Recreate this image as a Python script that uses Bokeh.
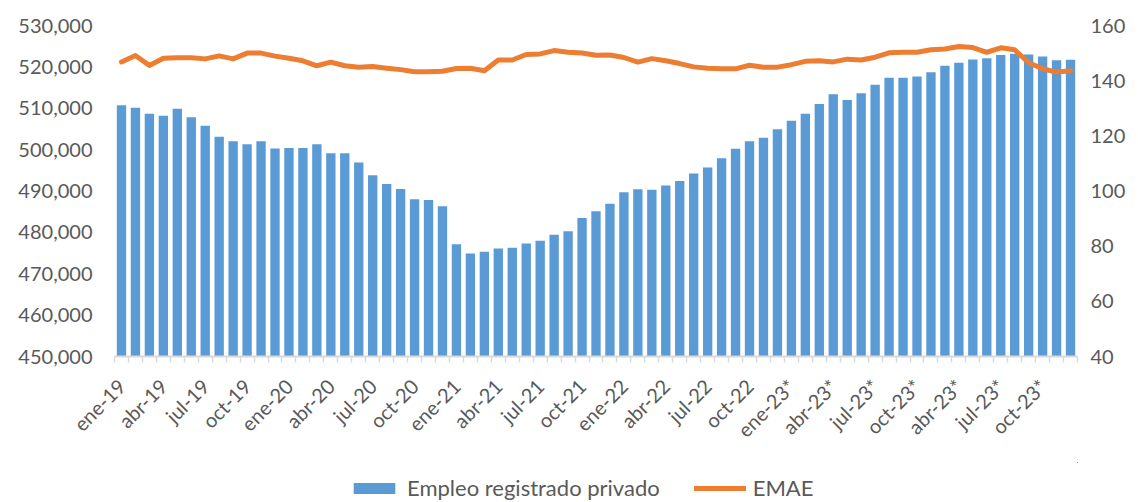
import math
from bokeh.plotting import figure
from bokeh.layouts import column
from bokeh.models import (Range1d, LinearAxis, FixedTicker, NumeralTickFormatter,
                          Legend, LegendItem, ColumnDataSource)
from bokeh.embed import file_html
from bokeh.resources import INLINE

# ---- data ----
empleo = [510700, 510100, 508700, 508200, 509900, 507800, 505800, 503100, 502000, 501300,
          502000, 500300, 500400, 500400, 501300, 499100, 499100, 496900, 493800, 491700,
          490500, 488000, 487800, 486300, 477100, 474900, 475300, 476100, 476300, 477300,
          478000, 479400, 480300, 483500, 485100, 486900, 489700, 490400, 490300, 491300,
          492400, 494200, 495700, 497900, 500200, 502000, 502900, 504900, 507000, 508700,
          511000, 513400, 512000, 513600, 515700, 517400, 517400, 517700, 518700, 520300,
          521000, 521800, 522100, 522900, 523200, 523000, 522500, 521600, 521700]

emae = [146.8, 149.1, 145.5, 148.1, 148.3, 148.3, 147.9, 149.0, 147.9, 150.0,
        150.0, 148.9, 148.1, 147.2, 145.4, 146.7, 145.4, 144.9, 145.1, 144.5,
        144.0, 143.2, 143.2, 143.4, 144.4, 144.5, 143.6, 147.5, 147.5, 149.5,
        149.7, 150.9, 150.3, 150.0, 149.2, 149.3, 148.4, 146.7, 148.0, 147.2,
        146.2, 145.0, 144.5, 144.3, 144.3, 145.6, 144.9, 144.9, 145.8, 147.0,
        147.2, 146.8, 147.8, 147.5, 148.5, 150.1, 150.3, 150.3, 151.2, 151.5,
        152.4, 152.0, 150.3, 151.9, 151.2, 146.5, 144.3, 143.1, 143.6]

tick_labels = ["ene-19", "abr-19", "jul-19", "oct-19", "ene-20", "abr-20", "jul-20", "oct-20",
               "ene-21", "abr-21", "jul-21", "oct-21", "ene-22", "abr-22", "jul-22", "oct-22",
               "ene-23*", "abr-23*", "jul-23*", "oct-23*", "abr-23*", "jul-23*", "oct-23*"]
label_step = 3

series_names = ["Empleo registrado privado", "EMAE"]

left_ticks = [450000, 460000, 470000, 480000, 490000, 500000, 510000, 520000, 530000]
right_ticks = [40, 60, 80, 100, 120, 140, 160]

# ---- styling ----
BLUE = "#5B9BD5"
ORANGE = "#ED7D31"
TXT = "#595959"
AXC = "#D9D9D9"
FONT = "Lato"

n = len(empleo)
xs = list(range(n))
src = ColumnDataSource(dict(x=xs, empleo=empleo, emae=emae))

p = figure(frame_width=963, frame_height=331,
           x_range=Range1d(-0.5, n - 0.5),
           y_range=Range1d(left_ticks[0], left_ticks[-1]),
           output_backend="svg", toolbar_location=None,
           min_border_left=114, min_border_right=61,
           min_border_top=25, min_border_bottom=106)
p.extra_y_ranges = {"emae": Range1d(right_ticks[0], right_ticks[-1])}

p.vbar(x="x", top="empleo", bottom=left_ticks[0], width=0.67, source=src,
       fill_color=BLUE, line_color=None)
p.line(x="x", y="emae", source=src, y_range_name="emae",
       line_color=ORANGE, line_width=5, line_join="round", line_cap="round")

p.outline_line_color = None
p.xgrid.visible = False
p.ygrid.visible = False

# x axis
tick_pos = [i * label_step for i in range(len(tick_labels))]
xa = p.xaxis[0]
xa.ticker = FixedTicker(ticks=tick_pos, minor_ticks=[i - 0.5 for i in range(n + 1)])
xa.major_label_overrides = {t: lab for t, lab in zip(tick_pos, tick_labels)}
xa.major_label_orientation = math.pi / 4
xa.major_label_text_font = FONT
xa.major_label_text_font_size = "20px"
xa.major_label_text_color = TXT
xa.major_label_standoff = 20
xa.major_tick_line_color = None
xa.major_tick_out = 6
xa.major_tick_in = 0
xa.minor_tick_in = 0
xa.minor_tick_out = 6
xa.minor_tick_line_color = AXC
xa.minor_tick_line_width = 1.5
xa.axis_line_color = AXC
xa.axis_line_width = 2

# left axis
ya = p.yaxis[0]
ya.ticker = FixedTicker(ticks=left_ticks)
ya.formatter = NumeralTickFormatter(format="0,0")
ya.axis_line_color = None
ya.major_tick_line_color = None
ya.major_tick_out = 0
ya.major_tick_in = 0
ya.minor_tick_line_color = None
ya.major_label_text_font = FONT
ya.major_label_text_font_size = "20px"
ya.major_label_text_color = TXT
ya.major_label_standoff = 22

# right axis
ra = LinearAxis(y_range_name="emae", ticker=FixedTicker(ticks=right_ticks))
ra.axis_line_color = None
ra.major_tick_line_color = None
ra.major_tick_out = 0
ra.major_tick_in = 0
ra.minor_tick_line_color = None
ra.major_label_text_font = FONT
ra.major_label_text_font_size = "20px"
ra.major_label_text_color = TXT
ra.major_label_standoff = 13
p.add_layout(ra, "right")

# ---- legend strip (small figure under the chart; its ranges exclude all the
#      data, so only the legend entries are visible) ----
lg = figure(width=1138, height=40, x_axis_type=None, y_axis_type=None,
            x_range=Range1d(-3, -2), y_range=Range1d(-3, -2),
            output_backend="svg", toolbar_location=None,
            min_border_left=0, min_border_right=0, min_border_top=0, min_border_bottom=0)
lg.outline_line_color = None
lg.xgrid.visible = False
lg.ygrid.visible = False
lb = lg.vbar(x="x", top="empleo", bottom=left_ticks[0], width=0.67, source=src,
             fill_color=BLUE, line_color=None)
ll = lg.line(x="x", y="emae", source=src, line_color=ORANGE, line_width=5, line_cap="round")

legend = Legend(items=[LegendItem(label=series_names[0], renderers=[lb]),
                       LegendItem(label=series_names[1], renderers=[ll])],
                orientation="horizontal", location=(234, 1),
                label_text_font=FONT, label_text_font_size="22px", label_text_color=TXT,
                glyph_width=52, glyph_height=14, label_standoff=7, spacing=34,
                border_line_color=None, background_fill_alpha=0,
                padding=0, margin=0)
lg.add_layout(legend, "center")

layout = column(p, lg, spacing=0)
open("out.html", "w").write(file_html(layout, INLINE))
